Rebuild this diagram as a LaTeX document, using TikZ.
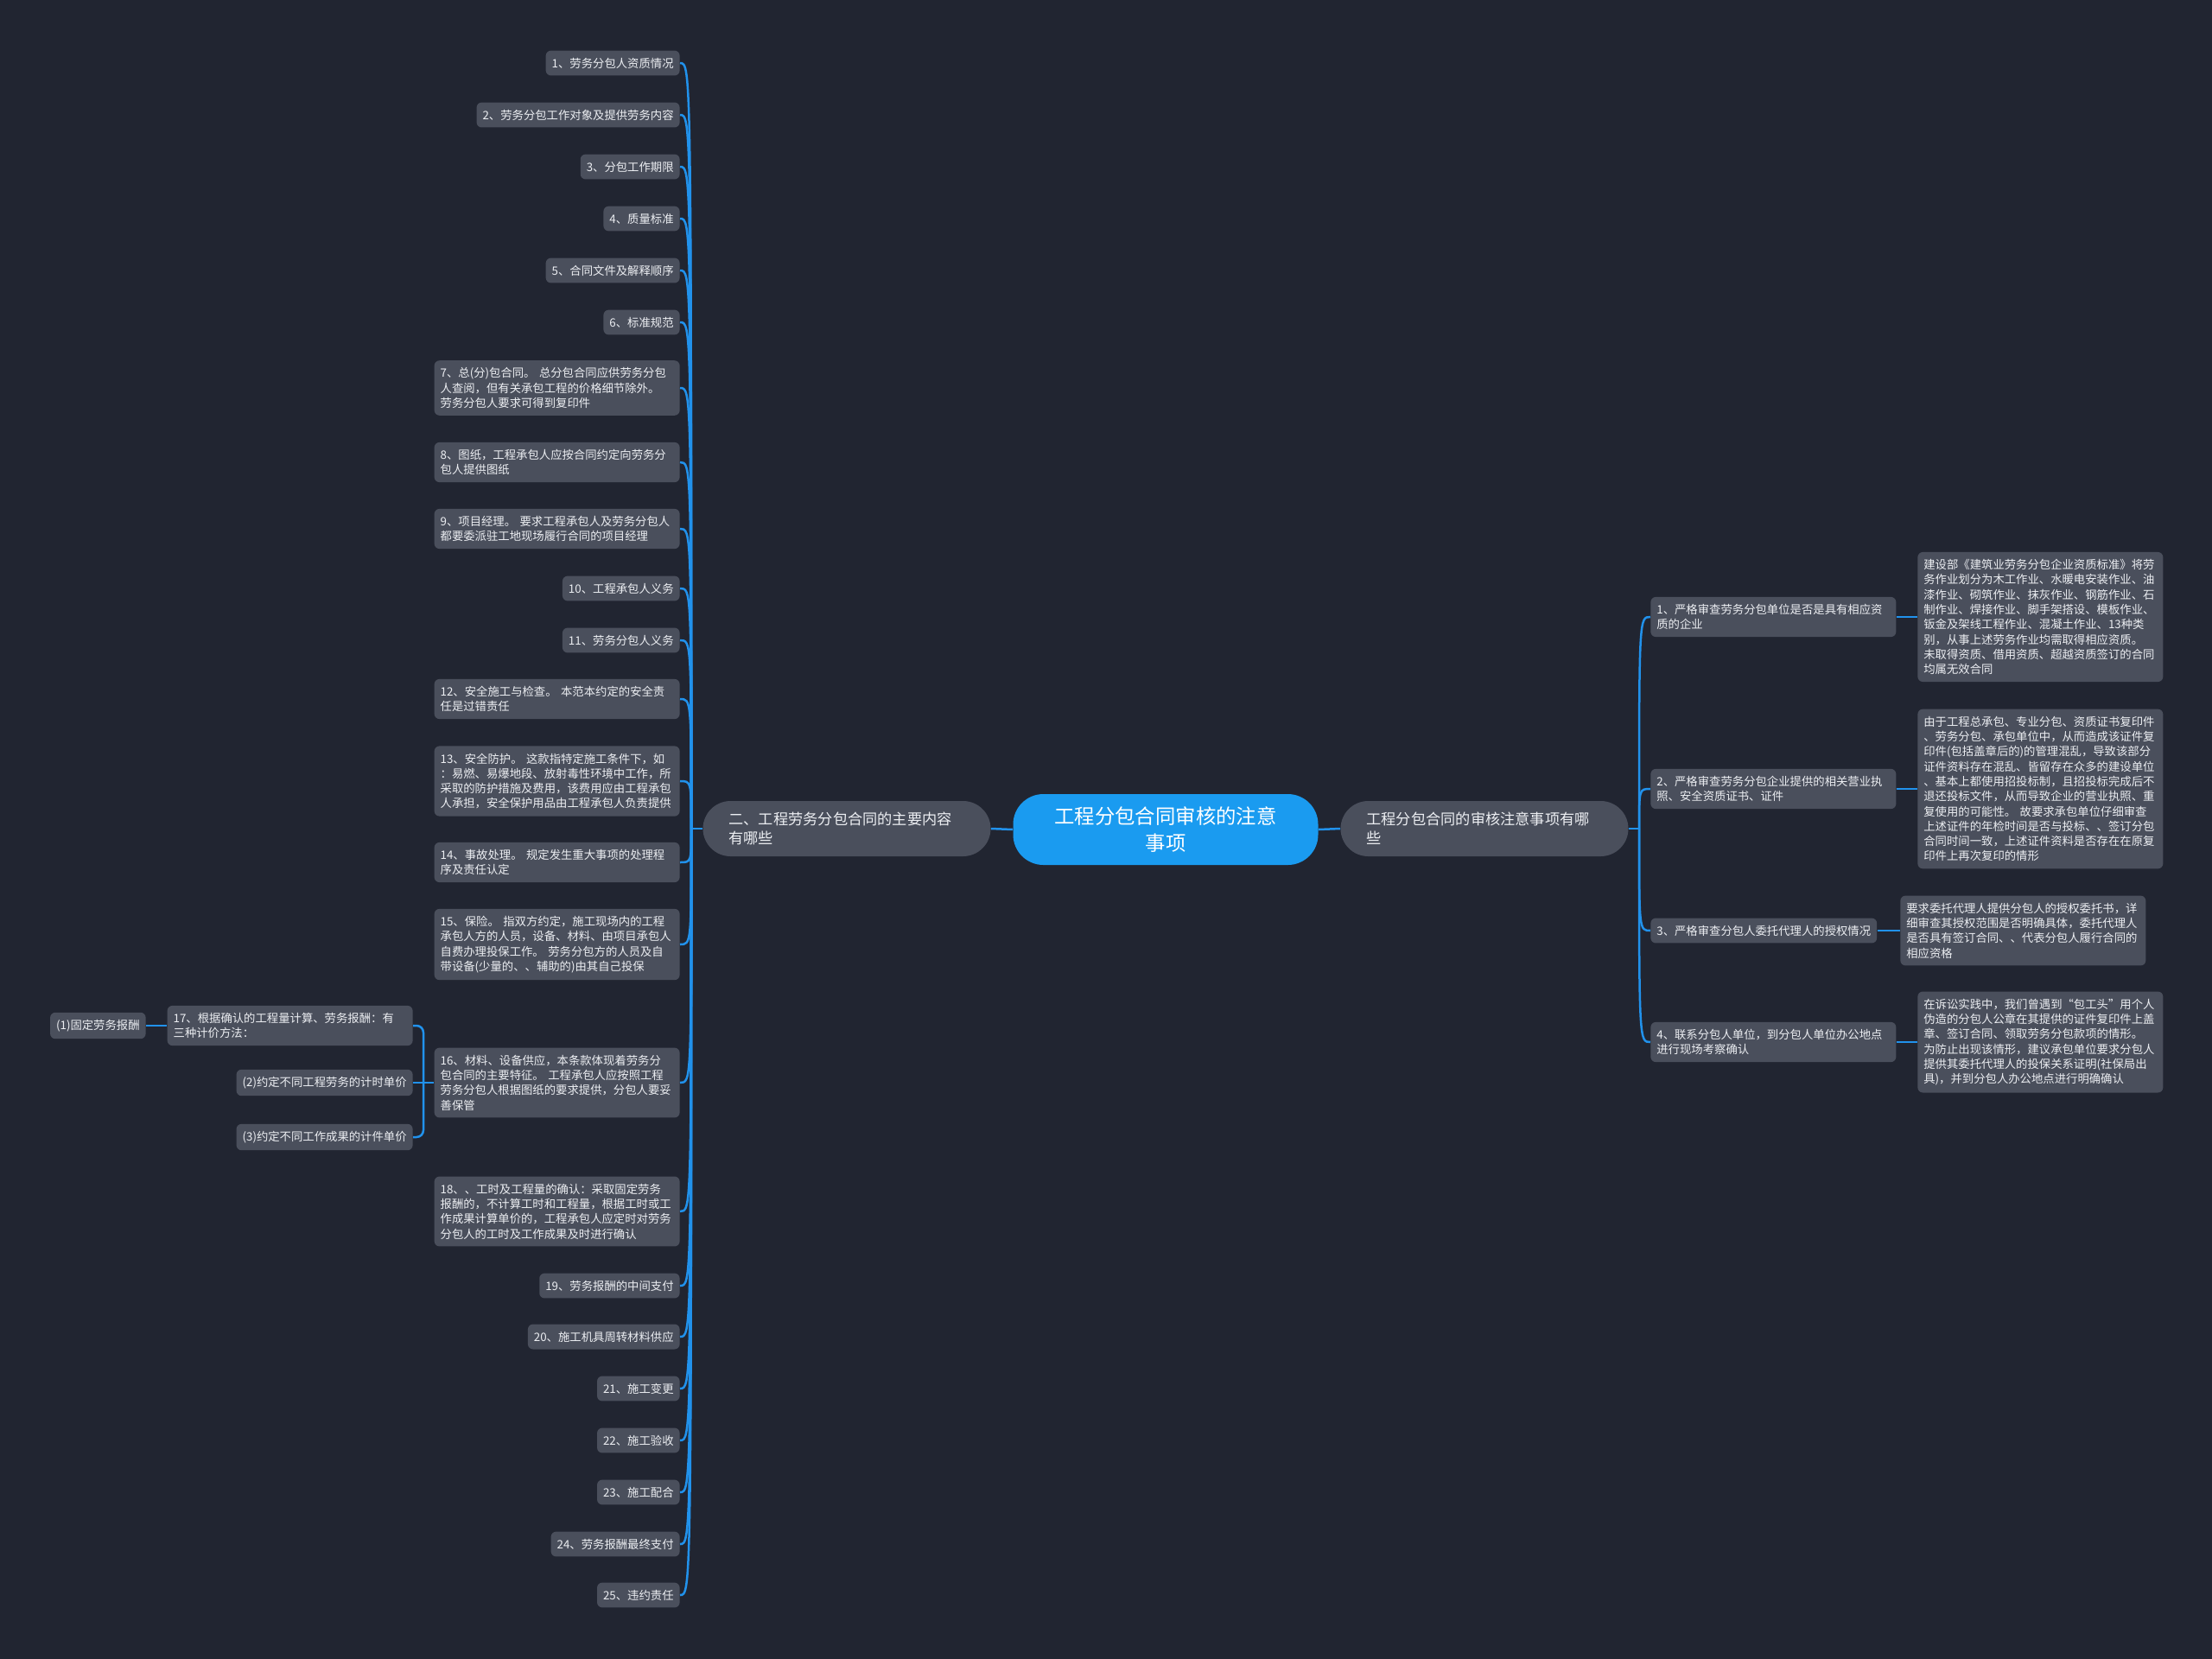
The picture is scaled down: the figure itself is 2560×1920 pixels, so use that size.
\documentclass[tikz,border=0pt]{standalone}
\usepackage{fontspec}
\setmainfont{Noto Sans CJK SC}
\usepackage{tikz}
\definecolor{bgc}{RGB}{33,37,49}
\definecolor{boxc}{RGB}{74,79,92}
\definecolor{linec}{RGB}{33,146,236}
\definecolor{rootc}{RGB}{26,155,240}
\definecolor{txtc}{RGB}{236,238,242}

\begin{document}
\begin{tikzpicture}[x=0.2mm,y=-0.2mm,
  leaf/.style={fill=boxc,text=txtc,rounded corners=1.2mm,inner xsep=1.4mm,inner ysep=1.65mm,font=\fontsize{7.6}{9.85}\selectfont},
  wide/.style={leaf,text width=54mm,align=left},
  main/.style={fill=boxc,text=txtc,rounded corners=6.4mm,inner xsep=6mm,text width=54.6mm,align=left,minimum height=12.8mm,font=\fontsize{9.8}{12.5}\selectfont},
  root/.style={fill=rootc,text=white,rounded corners=7mm,text width=56mm,align=center,minimum width=70.6mm,minimum height=16.4mm,font=\fontsize{13.3}{17.4}\selectfont},
  link/.style={draw=linec,line width=0.5mm}]
\fill[bgc] (0,0) rectangle (2560,1920);

% centre and the two branches
\node[root] (root) at (1349,960) {工程分包合同审核的注意\\事项};
\node[main] (left) at (980,959) {二、工程劳务分包合同的主要内容\\有哪些};
\node[main] (right) at (1718,959) {工程分包合同的审核注意事项有哪\\些};
\coordinate (ls) at (800,959);
\coordinate (rs) at (1897,959);

% left side
\node[leaf,anchor=east] (l1) at (787,73) {1、劳务分包人资质情况};
\node[leaf,anchor=east] (l2) at (787,133) {2、劳务分包工作对象及提供劳务内容};
\node[leaf,anchor=east] (l3) at (787,193) {3、分包工作期限};
\node[leaf,anchor=east] (l4) at (787,253) {4、质量标准};
\node[leaf,anchor=east] (l5) at (787,313) {5、合同文件及解释顺序};
\node[leaf,anchor=east] (l6) at (787,373) {6、标准规范};
\node[wide,anchor=east] (l7) at (787,449) {7、总(分)包合同。~总分包合同应供劳务分包\\人查阅，但有关承包工程的价格细节除外。\\劳务分包人要求可得到复印件};
\node[wide,anchor=east] (l8) at (787,535) {8、图纸，工程承包人应按合同约定向劳务分\\包人提供图纸};
\node[wide,anchor=east] (l9) at (787,612) {9、项目经理。~要求工程承包人及劳务分包人\\都要委派驻工地现场履行合同的项目经理};
\node[leaf,anchor=east] (l10) at (787,681) {10、工程承包人义务};
\node[leaf,anchor=east] (l11) at (787,741) {11、劳务分包人义务};
\node[wide,anchor=east] (l12) at (787,809) {12、安全施工与检查。~本范本约定的安全责\\任是过错责任};
\node[wide,anchor=east] (l13) at (787,904) {13、安全防护。~这款指特定施工条件下，如\\：易燃、易爆地段、放射毒性环境中工作，所\\采取的防护措施及费用，该费用应由工程承包\\人承担，安全保护用品由工程承包人负责提供};
\node[wide,anchor=east] (l14) at (787,998) {14、事故处理。~规定发生重大事项的处理程\\序及责任认定};
\node[wide,anchor=east] (l15) at (787,1093) {15、保险。~指双方约定，施工现场内的工程\\承包人方的人员，设备、材料、由项目承包人\\自费办理投保工作。~劳务分包方的人员及自\\带设备(少量的、、辅助的)由其自己投保};
\node[wide,anchor=east] (l16) at (787,1253) {16、材料、设备供应，本条款体现着劳务分\\包合同的主要特征。~工程承包人应按照工程\\劳务分包人根据图纸的要求提供，分包人要妥\\善保管};
\node[wide,anchor=east] (l18) at (787,1402) {18、、工时及工程量的确认：采取固定劳务\\报酬的，不计算工时和工程量，根据工时或工\\作成果计算单价的，工程承包人应定时对劳务\\分包人的工时及工作成果及时进行确认};
\node[leaf,anchor=east] (l19) at (787,1488) {19、劳务报酬的中间支付};
\node[leaf,anchor=east] (l20) at (787,1547) {20、施工机具周转材料供应};
\node[leaf,anchor=east] (l21) at (787,1607) {21、施工变更};
\node[leaf,anchor=east] (l22) at (787,1667) {22、施工验收};
\node[leaf,anchor=east] (l23) at (787,1727) {23、施工配合};
\node[leaf,anchor=east] (l24) at (787,1787) {24、劳务报酬最终支付};
\node[leaf,anchor=east] (l25) at (787,1846) {25、违约责任};

% sub branch of 16
\node[wide,anchor=east] (l17) at (478,1187) {17、根据确认的工程量计算、劳务报酬：有\\三种计价方法：};
\node[leaf,anchor=east] (m2) at (478,1253) {(2)约定不同工程劳务的计时单价};
\node[leaf,anchor=east] (m3) at (478,1316) {(3)约定不同工作成果的计件单价};
\node[leaf,anchor=east] (m1) at (169,1187) {(1)固定劳务报酬};
\coordinate (k16) at (490,1253);

% right side
\node[wide,anchor=west] (r1) at (1910,714) {1、严格审查劳务分包单位是否是具有相应资\\质的企业};
\node[wide,anchor=west] (r2) at (1910,913) {2、严格审查劳务分包企业提供的相关营业执\\照、安全资质证书、证件};
\node[leaf,anchor=west] (r3) at (1910,1077) {3、严格审查分包人委托代理人的授权情况};
\node[wide,anchor=west] (r4) at (1910,1206) {4、联系分包人单位，到分包人单位办公地点\\进行现场考察确认};

\node[wide,anchor=west] (d1) at (2219,714) {建设部《建筑业劳务分包企业资质标准》将劳\\务作业划分为木工作业、水暖电安装作业、油\\漆作业、砌筑作业、抹灰作业、钢筋作业、石\\制作业、焊接作业、脚手架搭设、模板作业、\\钣金及架线工程作业、混凝土作业、13种类\\别，从事上述劳务作业均需取得相应资质。\\未取得资质、借用资质、超越资质签订的合同\\均属无效合同};
\node[wide,anchor=west] (d2) at (2219,913) {由于工程总承包、专业分包、资质证书复印件\\、劳务分包、承包单位中，从而造成该证件复\\印件(包括盖章后的)的管理混乱，导致该部分\\证件资料存在混乱、皆留存在众多的建设单位\\、基本上都使用招投标制，且招投标完成后不\\退还投标文件，从而导致企业的营业执照、重\\复使用的可能性。~故要求承包单位仔细审查\\上述证件的年检时间是否与投标、、签订分包\\合同时间一致，上述证件资料是否存在在原复\\印件上再次复印的情形};
\node[wide,anchor=west] (d3) at (2199,1077) {要求委托代理人提供分包人的授权委托书，详\\细审查其授权范围是否明确具体，委托代理人\\是否具有签订合同、、代表分包人履行合同的\\相应资格};
\node[wide,anchor=west] (d4) at (2219,1206) {在诉讼实践中，我们曾遇到“包工头”用个人\\伪造的分包人公章在其提供的证件复印件上盖\\章、签订合同、领取劳务分包款项的情形。\\为防止出现该情形，建议承包单位要求分包人\\提供其委托代理人的投保关系证明(社保局出\\具)，并到分包人办公地点进行明确确认};

% connectors
\draw[link] (left.east) -- (root.west);
\draw[link] (root.east) -- (right.west);
\draw[link] (left.west) -- (ls);
\draw[link] (right.east) -- (rs);
\foreach \c in {l1,l2,l3,l4,l5,l6,l7,l8,l9,l10,l11,l12,l13,l14,l15,l16,l18,l19,l20,l21,l22,l23,l24,l25}
  \draw[link] (ls) .. controls (ls |- \c.east) .. (\c.east);
\foreach \c in {r1,r2,r3,r4}
  \draw[link] (rs) .. controls (rs |- \c.west) .. (\c.west);
\foreach \c/\d in {r1/d1,r2/d2,r3/d3,r4/d4}
  \draw[link] (\c.east) -- (\d.west);
\draw[link] (l16.west) -- (k16);
\draw[link,rounded corners=1.6mm] (k16) |- (l17.east);
\draw[link,rounded corners=1.6mm] (k16) |- (m3.east);
\draw[link] (k16) -- (m2.east);
\draw[link] (m1.east) -- (l17.west);
\end{tikzpicture}
\end{document}
